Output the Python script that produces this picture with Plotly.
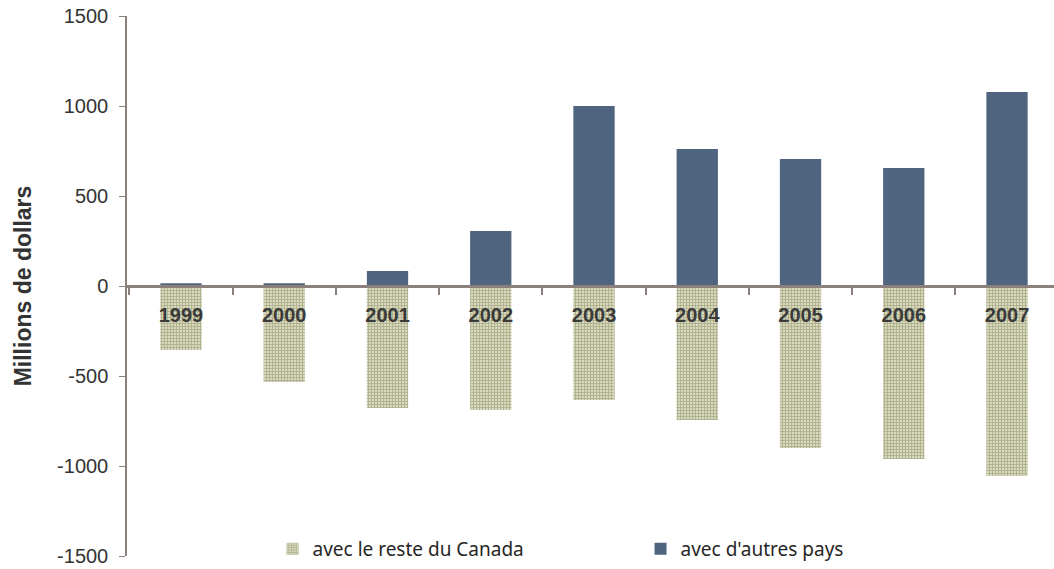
import plotly.graph_objects as go

years = ["1999", "2000", "2001", "2002", "2003", "2004", "2005", "2006", "2007"]
reste_canada = [-355, -533, -678, -689, -633, -744, -900, -961, -1055]
autres_pays = [15, 15, 83, 305, 1000, 761, 705, 655, 1078]
y_ticks = [-1500, -1000, -500, 0, 500, 1000, 1500]

axis_col = "#8c807d"

fig = go.Figure()
fig.add_trace(go.Bar(
    x=years, y=reste_canada, name="avec le reste du Canada",
    marker=dict(color="#d6d5bf", line=dict(width=0),
                pattern=dict(shape="+", fgcolor="#7f8a4e", bgcolor="#dad8c3",
                             size=3, solidity=0.5)),
))
fig.add_trace(go.Bar(
    x=years, y=autres_pays, name="avec d'autres pays",
    marker=dict(color="#4f657f", line=dict(width=0)),
))

fig.update_layout(
    width=1054, height=569,
    barmode="overlay", bargap=0.6,
    plot_bgcolor="white", paper_bgcolor="white",
    margin=dict(l=127, r=0, t=16, b=13, autoexpand=False),
    font=dict(family="Liberation Sans, Arial", color="#333333"),
    legend=dict(orientation="h", x=0.157, xanchor="left", y=0.013, yanchor="middle",
                entrywidth=323, entrywidthmode="pixels", traceorder="normal",
                font=dict(family="Noto Sans", size=19, color="#262626"),
                itemwidth=30),
)
fig.update_xaxes(
    type="category", anchor="free", position=0.5, automargin=False,
    range=[-0.523, 8.455],
    showline=True, linecolor=axis_col, linewidth=3,
    ticks="outside", tickson="boundaries", ticklen=7, tickcolor=axis_col, tickwidth=2,
    tickfont=dict(size=20, color="#3a3a3a", family="Liberation Sans, Arial"),
    ticklabelstandoff=10,
    tickvals=years, ticktext=["<b>%s</b>" % y for y in years],
    showgrid=False, zeroline=False,
)
fig.update_yaxes(
    range=[-1500, 1500], automargin=False,
    tickvals=y_ticks, ticktext=[str(v) for v in y_ticks],
    showline=True, linecolor=axis_col, linewidth=1.5,
    ticks="outside", ticklen=6, tickcolor=axis_col, ticklabelstandoff=7,
    tickfont=dict(size=20, color="#333333"),
    showgrid=False, zeroline=False,
    title=dict(text="<b>Millions de dollars</b>", font=dict(size=23, color="#333333"), standoff=19),
)

fig.write_html("out.html", config={"displayModeBar": False},
               post_script="document.body.style.margin='0';")
